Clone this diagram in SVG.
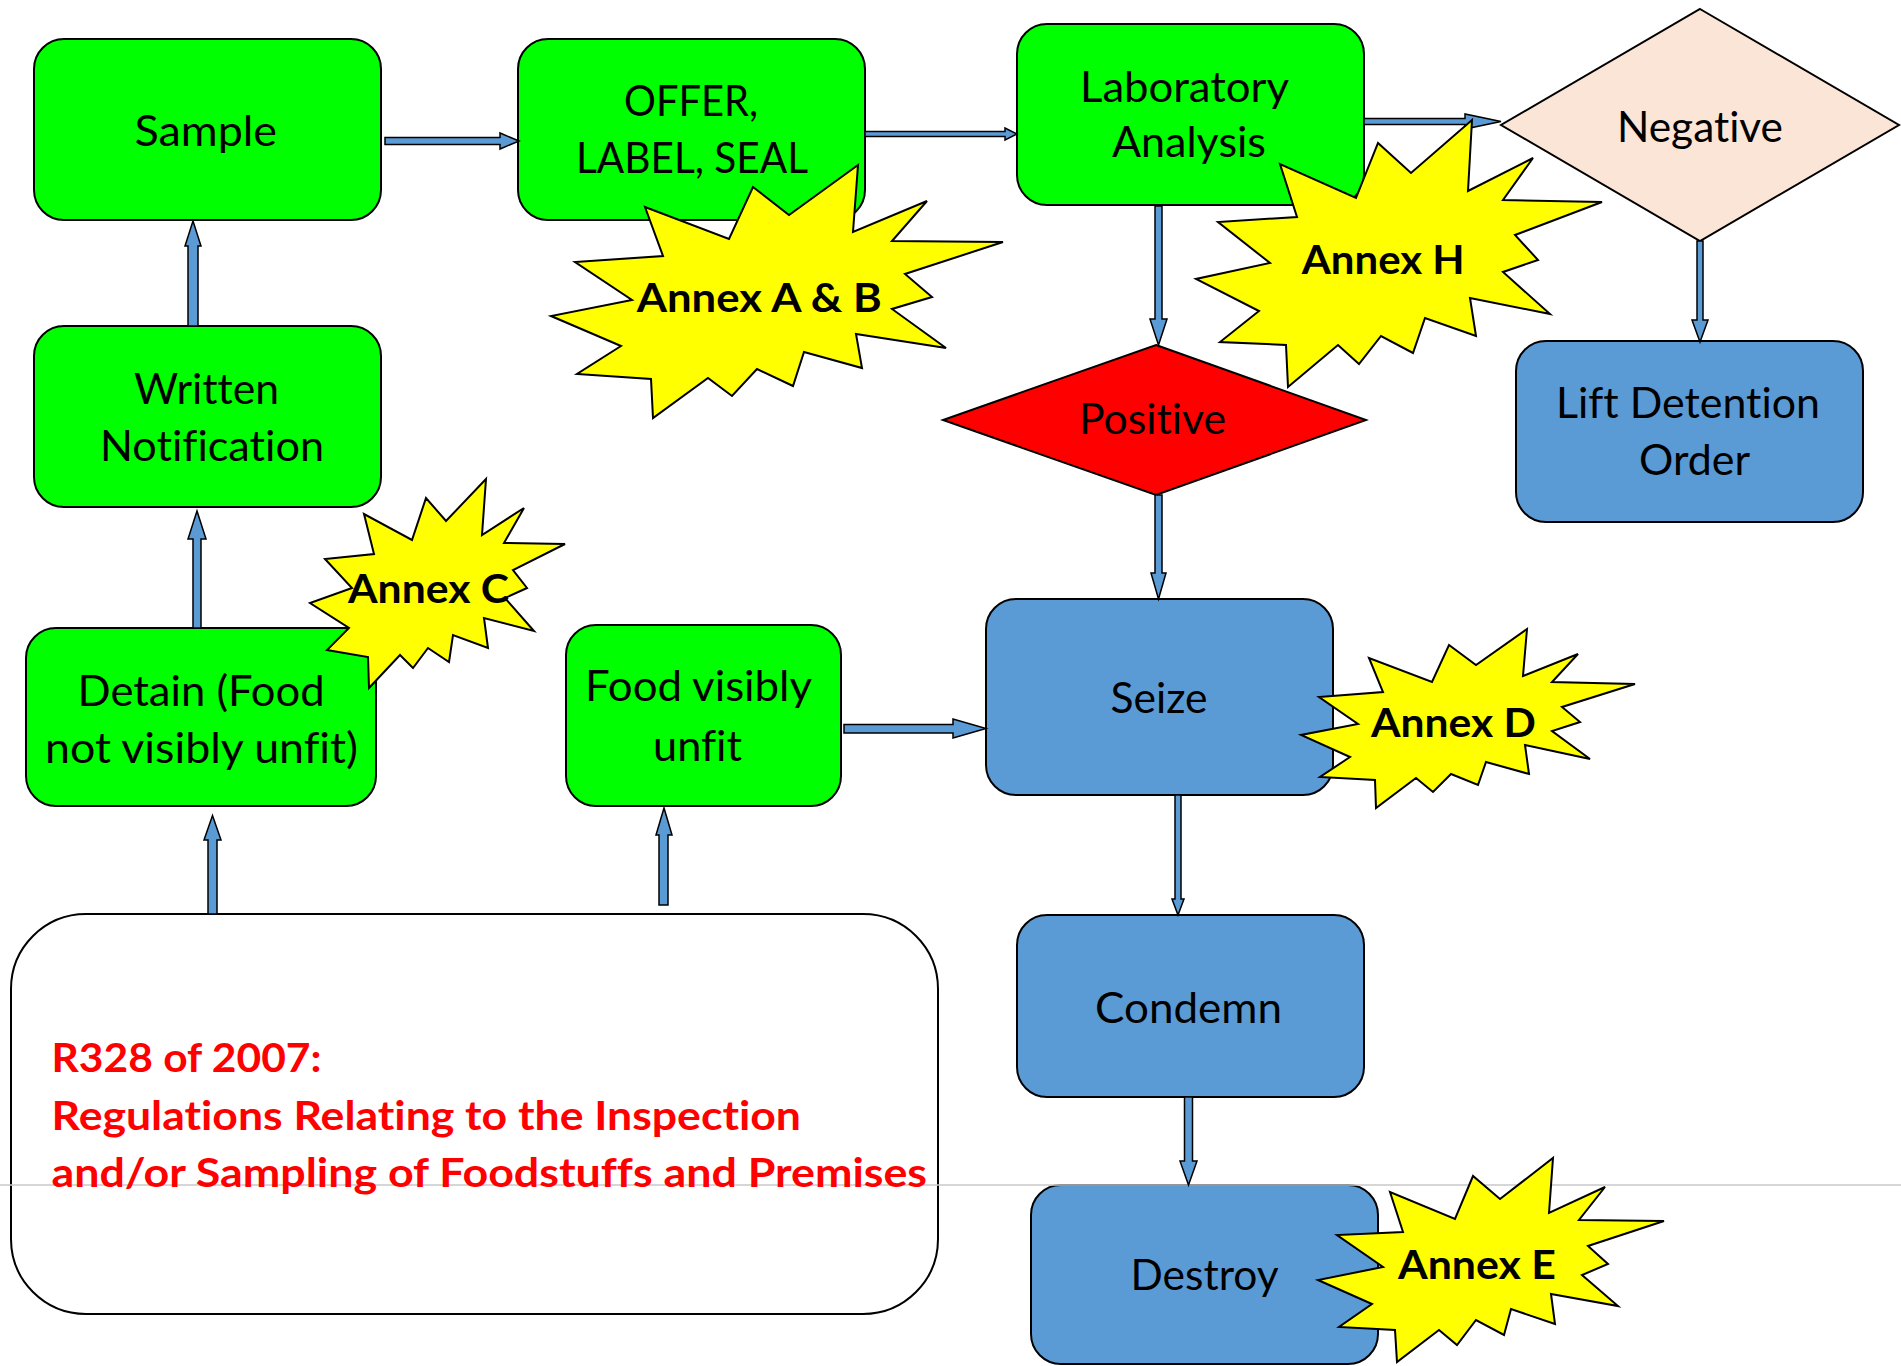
<svg xmlns="http://www.w3.org/2000/svg" width="1901" height="1366" viewBox="0 0 1901 1366">
<style>
text{font-variant-ligatures:none;font-feature-settings:"liga" 0,"dlig" 0}
.box{stroke:#000;stroke-width:2}
.g{fill:#00FF00}
.b{fill:#5B9BD5}
.t{font-family:Lato,"Open Sans","DejaVu Sans",sans-serif;font-size:42px;fill:#000}
.an{font-family:Lato,"Open Sans","DejaVu Sans",sans-serif;font-size:40px;font-weight:bold;fill:#000}
.red{font-family:Lato,"Open Sans","DejaVu Sans",sans-serif;font-size:41px;font-weight:bold;fill:#FF0000}
.star{fill:#FFFF00;stroke:#000;stroke-width:2;stroke-linejoin:miter}
.arr{fill:#5B9BD5;stroke:#000;stroke-width:1.5;stroke-linejoin:miter}
</style>
<rect width="1901" height="1366" fill="#fff"/>

<g id="node-sample">
<rect class="box g" x="34" y="39" width="347" height="181" rx="30"/>
<text class="t" x="134.5" y="146" textLength="142.5" lengthAdjust="spacingAndGlyphs">Sample</text>
</g>
<g id="node-offer">
<rect class="box g" x="518" y="39" width="347" height="181" rx="30"/>
<text class="t" x="624" y="116" textLength="134" lengthAdjust="spacingAndGlyphs">OFFER,</text>
<text class="t" x="576" y="173" textLength="232" lengthAdjust="spacingAndGlyphs">LABEL, SEAL</text>
</g>
<g id="node-lab">
<rect class="box g" x="1017" y="24" width="347" height="181" rx="30"/>
<text class="t" x="1080" y="102" textLength="209" lengthAdjust="spacingAndGlyphs">Laboratory</text>
<text class="t" x="1112" y="157" textLength="154" lengthAdjust="spacingAndGlyphs">Analysis</text>
</g>
<g id="node-negative">
<polygon points="1700,9 1899,125 1700,241 1501,125" fill="#FBE5D6" stroke="#000" stroke-width="2"/>
<text class="t" x="1617" y="142" textLength="166" lengthAdjust="spacingAndGlyphs">Negative</text>
</g>
<g id="node-written">
<rect class="box g" x="34" y="326" width="347" height="181" rx="30"/>
<text class="t" x="134" y="403.6" textLength="145" lengthAdjust="spacingAndGlyphs">Written</text>
<text class="t" x="100" y="461" textLength="224" lengthAdjust="spacingAndGlyphs">Notification</text>
</g>
<g id="node-positive">
<polygon points="1156,345 1366,420 1156,495 943,420" fill="#FF0000" stroke="#000" stroke-width="2"/>
<text class="t" x="1079" y="434" textLength="147" lengthAdjust="spacingAndGlyphs">Positive</text>
</g>
<g id="node-lift">
<rect class="box b" x="1516" y="341" width="347" height="181" rx="30"/>
<text class="t" x="1556" y="418" textLength="264" lengthAdjust="spacingAndGlyphs">Lift Detention</text>
<text class="t" x="1639" y="475" textLength="111" lengthAdjust="spacingAndGlyphs">Order</text>
</g>
<g id="node-detain">
<rect class="box g" x="26" y="628" width="350" height="178" rx="30"/>
<text class="t" x="77.6" y="705.5" textLength="247" lengthAdjust="spacingAndGlyphs">Detain (Food</text>
<text class="t" x="45" y="763" textLength="313" lengthAdjust="spacingAndGlyphs">not visibly unfit)</text>
</g>
<g id="node-unfit">
<rect class="box g" x="566" y="625" width="275" height="181" rx="30"/>
<text class="t" x="585" y="701" textLength="227" lengthAdjust="spacingAndGlyphs">Food visibly</text>
<text class="t" x="653" y="760.5" textLength="89" lengthAdjust="spacingAndGlyphs">unfit</text>
</g>
<g id="node-seize">
<rect class="box b" x="986" y="599" width="347" height="196" rx="30"/>
<text class="t" x="1110.6" y="713" textLength="97" lengthAdjust="spacingAndGlyphs">Seize</text>
</g>
<g id="node-condemn">
<rect class="box b" x="1017" y="915" width="347" height="182" rx="30"/>
<text class="t" x="1095" y="1023" textLength="187" lengthAdjust="spacingAndGlyphs">Condemn</text>
</g>
<g id="node-destroy">
<rect class="box b" x="1031" y="1185" width="347" height="179" rx="30"/>
<text class="t" x="1130.6" y="1290" textLength="148" lengthAdjust="spacingAndGlyphs">Destroy</text>
</g>
<g id="node-regulation">
<rect x="11" y="914" width="927" height="400" rx="75" fill="#fff" stroke="#000" stroke-width="2"/>
<line x1="0" y1="1185" x2="1901" y2="1185" stroke="#c8c8c8" stroke-width="1.5"/>
<text class="red" x="51.5" y="1071.6" textLength="270" lengthAdjust="spacingAndGlyphs">R328 of 2007:</text>
<text class="red" x="51.5" y="1129.7" textLength="749.5" lengthAdjust="spacingAndGlyphs">Regulations Relating to the Inspection</text>
<text class="red" x="51.5" y="1187" textLength="875.5" lengthAdjust="spacingAndGlyphs">and/or Sampling of Foodstuffs and Premises</text>
</g>

<g id="connectors">
<polygon class="arr" points="385,137.5 500,137.5 500,133 519,141 500,149 500,144.5 385,144.5"/>
<polygon class="arr" points="865,131.5 1005,131.5 1005,128 1017,134 1005,140 1005,136.5 865,136.5"/>
<polygon class="arr" points="1364,118.5 1465,118.5 1465,114 1501,121.5 1465,129 1465,124.5 1364,124.5"/>
<polygon class="arr" points="1155,206 1162,206 1162,319 1167,319 1158.5,345 1150,319 1155,319"/>
<polygon class="arr" points="1697,241 1703,241 1703,320 1708,320 1700,342 1692,320 1697,320"/>
<polygon class="arr" points="1155,495 1162,495 1162,573 1166,573 1158.5,599 1151,573 1155,573"/>
<polygon class="arr" points="1175,795 1181,795 1181,899 1184,899 1178,915 1172,899 1175,899"/>
<polygon class="arr" points="1184.5,1097 1192.5,1097 1192.5,1161 1197,1161 1188.5,1185 1180,1161 1184.5,1161"/>
<polygon class="arr" points="844,724.5 953,724.5 953,719 986,728.5 953,738 953,733 844,733"/>
<polygon class="arr" points="193,628 201,628 201,539 206,539 197,511 188,539 193,539"/>
<polygon class="arr" points="188,326 198,326 198,246 201,246 193,221 185,246 188,246"/>
<polygon class="arr" points="208,914 217,914 217,840 221,840 212.5,815.5 204,840 208,840"/>
<polygon class="arr" points="659,905 668,905 668,835 672,835 664,808 656,835 659,835"/>
</g>

<g id="annex-ab">
<polygon class="star" points="858,165 853,232 927,201 892,241 1003,242 905,274 932,297 892,309 946,348 856,334 862,368 804,352 793,386 757,369 732,396 708,378 653,418 651,379 577,374 621,346 551,316 632,300 575,262 663,256 645,207 729,239 753,187 789,215"/>
<text class="an" x="636.7" y="311.7" textLength="245" lengthAdjust="spacingAndGlyphs">Annex A &amp; B</text>
</g>
<g id="annex-h">
<polygon class="star" points="1472,120 1468,191 1533,158 1503,200 1602,202 1515,235 1538,260 1503,272 1550,314 1470,298 1476,336 1425,318 1413,353 1381,336 1359,364 1338,345 1288,387 1286,345 1220,342 1259,311 1196,279 1270,263 1218,222 1297,217 1280,164 1356,198 1378,143 1411,173"/>
<text class="an" x="1301.7" y="274.3" textLength="163" lengthAdjust="spacingAndGlyphs">Annex H</text>
</g>
<g id="annex-c">
<polygon class="star" points="486,479 482,535 524,508 504,543 565,544 513,570 527,588 505,598 534,631 484,618 488,648 453,635 449,662 428,648 413,668 400,655 369,688 368,657 327,650 349,628 310,603 352,588 325,559 374,554 364,514 412,540 426,498 446,521"/>
<text class="an" x="348" y="603" textLength="161" lengthAdjust="spacingAndGlyphs">Annex C</text>
</g>
<g id="annex-d">
<polygon class="star" points="1527,629 1523,676 1578,654 1552,682 1635,684 1562,707 1580,722 1552,731 1590,759 1525,745 1529,774 1486,762 1478,785 1451,774 1433,792 1416,778 1376,808 1375,780 1320,777 1350,757 1301,735 1358,724 1319,697 1383,692 1369,658 1432,682 1449,645 1476,665"/>
<text class="an" x="1371" y="737" textLength="165" lengthAdjust="spacingAndGlyphs">Annex D</text>
</g>
<g id="annex-e">
<polygon class="star" points="1553,1158 1549,1213 1605,1187 1579,1220 1664,1221 1588,1246 1608,1264 1582,1275 1618,1306 1551,1294 1555,1324 1511,1309 1504,1335 1476,1320 1457,1345 1439,1330 1397,1362 1395,1330 1339,1327 1372,1304 1318,1280 1383,1267 1337,1235 1403,1232 1390,1192 1455,1219 1473,1176 1500,1199"/>
<text class="an" x="1398" y="1279" textLength="158" lengthAdjust="spacingAndGlyphs">Annex E</text>
</g>
</svg>
